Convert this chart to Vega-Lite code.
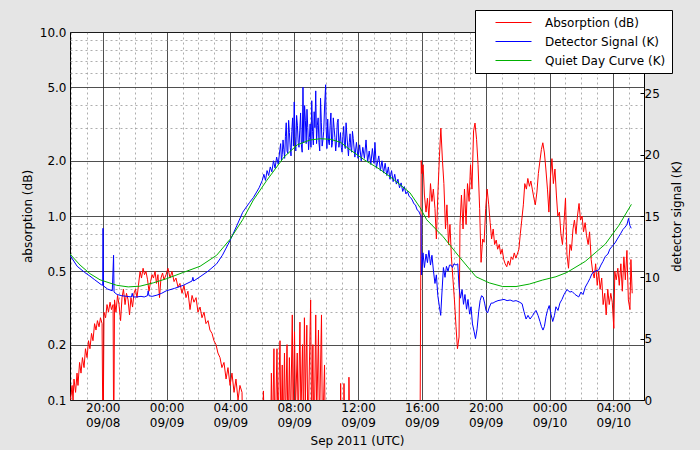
{
  "$schema": "https://vega.github.io/schema/vega-lite/v6.json",
  "width": 574,
  "height": 368,
  "autosize": {"type": "none"},
  "padding": {"left": 70, "top": 32, "right": 56, "bottom": 50},
  "background": "#e5e5e5",
  "config": {
    "view": {"fill": "white", "stroke": "black", "strokeWidth": 1},
    "font": "DejaVu Sans",
    "axis": {
      "labelFont": "DejaVu Sans", "labelFontSize": 12, "labelColor": "black",
      "titleFont": "DejaVu Sans", "titleFontSize": 12, "titleFontWeight": "normal", "titleColor": "black",
      "domain": false, "tickColor": "black"
    }
  },
  "datasets": {
    "abs": [
      {"h":17.95,"v":0.1},{"h":18.01,"v":0.105},{"h":18.08,"v":0.12},{"h":18.14,"v":0.1},{"h":18.2,"v":0.13},{"h":18.3,"v":0.11},{"h":18.39,"v":0.14},{"h":18.45,"v":0.12},{"h":18.55,"v":0.16},{"h":18.64,"v":0.14},{"h":18.73,"v":0.17},{"h":18.83,"v":0.15},{"h":18.92,"v":0.19},{"h":19.02,"v":0.17},{"h":19.11,"v":0.21},{"h":19.2,"v":0.19},{"h":19.3,"v":0.23},{"h":19.39,"v":0.21},{"h":19.49,"v":0.26},{"h":19.58,"v":0.24},{"h":19.67,"v":0.27},{"h":19.77,"v":0.25},{"h":19.86,"v":0.28},{"h":19.96,"v":0.26},{"h":20.02,"v":0.05},{"h":20.08,"v":0.3},{"h":20.18,"v":0.28},{"h":20.27,"v":0.33},{"h":20.36,"v":0.3},{"h":20.46,"v":0.34},{"h":20.55,"v":0.31},{"h":20.65,"v":0.33},{"h":20.69,"v":0.05},{"h":20.74,"v":0.35},{"h":20.83,"v":0.3},{"h":20.93,"v":0.37},{"h":21.02,"v":0.33},{"h":21.12,"v":0.27},{"h":21.21,"v":0.36},{"h":21.3,"v":0.4},{"h":21.4,"v":0.33},{"h":21.49,"v":0.38},{"h":21.59,"v":0.35},{"h":21.68,"v":0.29},{"h":21.77,"v":0.36},{"h":21.87,"v":0.32},{"h":21.96,"v":0.38},{"h":22.05,"v":0.4},{"h":22.15,"v":0.36},{"h":22.24,"v":0.42},{"h":22.34,"v":0.5},{"h":22.43,"v":0.46},{"h":22.53,"v":0.52},{"h":22.62,"v":0.48},{"h":22.71,"v":0.5},{"h":22.81,"v":0.45},{"h":22.9,"v":0.39},{"h":23.0,"v":0.44},{"h":23.09,"v":0.48},{"h":23.18,"v":0.46},{"h":23.28,"v":0.5},{"h":23.37,"v":0.43},{"h":23.46,"v":0.48},{"h":23.56,"v":0.36},{"h":23.65,"v":0.46},{"h":23.75,"v":0.49},{"h":23.84,"v":0.45},{"h":23.97,"v":0.48},{"h":24.09,"v":0.52},{"h":24.22,"v":0.46},{"h":24.34,"v":0.5},{"h":24.47,"v":0.44},{"h":24.59,"v":0.46},{"h":24.72,"v":0.41},{"h":24.84,"v":0.43},{"h":24.97,"v":0.38},{"h":25.09,"v":0.42},{"h":25.22,"v":0.36},{"h":25.34,"v":0.39},{"h":25.47,"v":0.31},{"h":25.6,"v":0.37},{"h":25.72,"v":0.34},{"h":25.85,"v":0.36},{"h":25.97,"v":0.3},{"h":26.1,"v":0.32},{"h":26.22,"v":0.28},{"h":26.35,"v":0.3},{"h":26.47,"v":0.26},{"h":26.6,"v":0.27},{"h":26.72,"v":0.24},{"h":26.85,"v":0.23},{"h":26.97,"v":0.21},{"h":27.1,"v":0.2},{"h":27.22,"v":0.18},{"h":27.35,"v":0.17},{"h":27.47,"v":0.15},{"h":27.6,"v":0.16},{"h":27.73,"v":0.13},{"h":27.85,"v":0.15},{"h":27.98,"v":0.12},{"h":28.1,"v":0.14},{"h":28.23,"v":0.11},{"h":28.35,"v":0.13},{"h":28.48,"v":0.1},{"h":28.6,"v":0.12},{"h":28.73,"v":0.11},{"h":28.79,"v":0.05},
      {"h":29.98,"v":0.05},{"h":30.07,"v":0.112},{"h":30.17,"v":0.05},{"h":30.51,"v":0.05},{"h":30.57,"v":0.14},{"h":30.64,"v":0.06},{"h":30.73,"v":0.19},{"h":30.79,"v":0.05},{"h":30.92,"v":0.19},{"h":30.98,"v":0.07},{"h":31.11,"v":0.21},{"h":31.17,"v":0.06},{"h":31.25,"v":0.155},{"h":31.3,"v":0.06},{"h":31.39,"v":0.18},{"h":31.45,"v":0.07},{"h":31.55,"v":0.2},{"h":31.61,"v":0.06},{"h":31.7,"v":0.17},{"h":31.77,"v":0.07},{"h":31.88,"v":0.29},{"h":31.93,"v":0.08},{"h":32.02,"v":0.235},{"h":32.08,"v":0.09},{"h":32.19,"v":0.18},{"h":32.25,"v":0.07},{"h":32.36,"v":0.265},{"h":32.42,"v":0.08},{"h":32.52,"v":0.2},{"h":32.58,"v":0.07},{"h":32.64,"v":0.28},{"h":32.7,"v":0.1},{"h":32.79,"v":0.255},{"h":32.86,"v":0.06},{"h":33.03,"v":0.35},{"h":33.09,"v":0.07},{"h":33.17,"v":0.2},{"h":33.24,"v":0.05},{"h":33.35,"v":0.29},{"h":33.41,"v":0.08},{"h":33.52,"v":0.24},{"h":33.58,"v":0.07},{"h":33.71,"v":0.29},{"h":33.77,"v":0.06},{"h":33.9,"v":0.155},{"h":33.96,"v":0.05},{"h":34.87,"v":0.05},{"h":34.91,"v":0.123},{"h":34.96,"v":0.05},{"h":35.09,"v":0.05},{"h":35.12,"v":0.123},{"h":35.18,"v":0.05},{"h":35.4,"v":0.05},{"h":35.43,"v":0.133},{"h":35.5,"v":0.05},
      {"h":39.88,"v":0.05},{"h":39.96,"v":2.0},{"h":40.0,"v":1.7},{"h":40.08,"v":1.9},{"h":40.16,"v":1.3},{"h":40.26,"v":1.05},{"h":40.35,"v":1.25},{"h":40.44,"v":0.98},{"h":40.54,"v":1.5},{"h":40.63,"v":1.2},{"h":40.72,"v":1.4},{"h":40.82,"v":1.1},{"h":40.91,"v":0.75},{"h":41.0,"v":1.3},{"h":41.1,"v":2.1},{"h":41.19,"v":3.0},{"h":41.29,"v":2.0},{"h":41.38,"v":1.5},{"h":41.48,"v":0.85},{"h":41.57,"v":1.15},{"h":41.67,"v":0.7},{"h":41.76,"v":0.9},{"h":41.85,"v":0.6},{"h":41.95,"v":0.45},{"h":42.04,"v":0.35},{"h":42.14,"v":0.25},{"h":42.23,"v":0.19},{"h":42.33,"v":0.22},{"h":42.39,"v":0.9},{"h":42.48,"v":1.3},{"h":42.58,"v":0.85},{"h":42.67,"v":1.4},{"h":42.77,"v":0.9},{"h":42.86,"v":1.5},{"h":42.96,"v":1.2},{"h":43.05,"v":1.9},{"h":43.14,"v":1.4},{"h":43.24,"v":2.9},{"h":43.33,"v":3.2},{"h":43.43,"v":2.6},{"h":43.52,"v":1.9},{"h":43.62,"v":1.1},{"h":43.71,"v":0.56},{"h":43.81,"v":0.75},{"h":43.9,"v":0.72},{"h":44.0,"v":1.1},{"h":44.09,"v":1.4},{"h":44.19,"v":1.15},{"h":44.28,"v":0.92},{"h":44.37,"v":0.75},{"h":44.47,"v":0.85},{"h":44.56,"v":0.7},{"h":44.66,"v":0.74},{"h":44.75,"v":0.66},{"h":44.85,"v":0.7},{"h":44.94,"v":0.62},{"h":45.03,"v":0.66},{"h":45.13,"v":0.58},{"h":45.22,"v":0.55},{"h":45.32,"v":0.53},{"h":45.41,"v":0.57},{"h":45.51,"v":0.54},{"h":45.6,"v":0.6},{"h":45.7,"v":0.58},{"h":45.79,"v":0.63},{"h":45.89,"v":0.59},{"h":45.98,"v":0.62},{"h":46.08,"v":0.66},{"h":46.17,"v":0.8},{"h":46.26,"v":0.95},{"h":46.36,"v":1.15},{"h":46.45,"v":1.5},{"h":46.55,"v":1.4},{"h":46.64,"v":1.6},{"h":46.74,"v":1.45},{"h":46.83,"v":1.55},{"h":46.92,"v":1.4},{"h":47.02,"v":1.25},{"h":47.11,"v":1.15},{"h":47.21,"v":1.35},{"h":47.3,"v":1.7},{"h":47.4,"v":2.0},{"h":47.49,"v":2.3},{"h":47.58,"v":2.5},{"h":47.68,"v":2.2},{"h":47.77,"v":1.8},{"h":47.87,"v":1.4},{"h":47.96,"v":1.05},{"h":48.05,"v":1.6},{"h":48.15,"v":2.05},{"h":48.24,"v":1.5},{"h":48.34,"v":1.8},{"h":48.43,"v":1.3},{"h":48.52,"v":1.0},{"h":48.62,"v":1.05},{"h":48.71,"v":0.8},{"h":48.81,"v":0.7},{"h":48.9,"v":0.9},{"h":49.0,"v":1.25},{"h":49.09,"v":0.62},{"h":49.19,"v":0.52},{"h":49.28,"v":0.7},{"h":49.37,"v":0.65},{"h":49.47,"v":0.85},{"h":49.56,"v":0.95},{"h":49.66,"v":0.8},{"h":49.75,"v":1.0},{"h":49.85,"v":1.17},{"h":49.94,"v":0.95},{"h":50.04,"v":1.0},{"h":50.13,"v":0.82},{"h":50.23,"v":0.92},{"h":50.32,"v":0.78},{"h":50.42,"v":0.7},{"h":50.51,"v":0.82},{"h":50.61,"v":0.58},{"h":50.7,"v":0.5},{"h":50.8,"v":0.46},{"h":50.89,"v":0.55},{"h":50.99,"v":0.42},{"h":51.08,"v":0.5},{"h":51.17,"v":0.4},{"h":51.27,"v":0.46},{"h":51.36,"v":0.33},{"h":51.46,"v":0.38},{"h":51.55,"v":0.29},{"h":51.65,"v":0.4},{"h":51.74,"v":0.33},{"h":51.84,"v":0.38},{"h":51.93,"v":0.34},{"h":52.03,"v":0.245},{"h":52.09,"v":0.5},{"h":52.18,"v":0.45},{"h":52.28,"v":0.52},{"h":52.37,"v":0.42},{"h":52.47,"v":0.55},{"h":52.56,"v":0.39},{"h":52.66,"v":0.6},{"h":52.75,"v":0.45},{"h":52.85,"v":0.65},{"h":52.94,"v":0.35},{"h":53.04,"v":0.31},{"h":53.1,"v":0.58},{"h":53.18,"v":0.38}
    ],
    "sig": [
      {"h":17.95,"v":11.8},{"h":18.4,"v":10.9},{"h":18.87,"v":10.4},{"h":19.2,"v":10.1},{"h":19.5,"v":9.8},{"h":19.91,"v":9.4},{"h":20.0,"v":9.35},{"h":20.02,"v":14.0},{"h":20.05,"v":9.3},{"h":20.3,"v":9.05},{"h":20.6,"v":8.9},{"h":20.68,"v":11.8},{"h":20.71,"v":8.8},{"h":20.9,"v":8.6},{"h":21.2,"v":8.5},{"h":21.5,"v":8.45},{"h":21.8,"v":8.4},{"h":21.85,"v":8.7},{"h":21.9,"v":8.4},{"h":22.1,"v":8.4},{"h":22.4,"v":8.45},{"h":22.6,"v":8.4},{"h":22.8,"v":8.5},{"h":22.85,"v":8.9},{"h":22.9,"v":8.5},{"h":23.1,"v":8.45},{"h":23.4,"v":8.55},{"h":23.7,"v":8.7},{"h":23.98,"v":8.9},{"h":24.5,"v":9.1},{"h":25.05,"v":9.35},{"h":25.6,"v":9.7},{"h":25.65,"v":10.0},{"h":25.7,"v":9.7},{"h":26.1,"v":10.05},{"h":26.6,"v":10.5},{"h":27.14,"v":11.1},{"h":27.5,"v":11.8},{"h":27.98,"v":13.0},{"h":28.4,"v":14.2},{"h":28.77,"v":15.3},{"h":29.2,"v":16.1},{"h":29.44,"v":16.5},{"h":29.8,"v":17.3},
      {"h":30.0,"v":17.9},{"h":30.1,"v":18.4},{"h":30.2,"v":17.9},{"h":30.3,"v":18.7},{"h":30.4,"v":18.3},{"h":30.5,"v":19.0},{"h":30.6,"v":18.6},{"h":30.7,"v":19.5},{"h":30.8,"v":18.9},{"h":30.9,"v":19.8},{"h":31.0,"v":19.2},{"h":31.1,"v":20.4},{"h":31.2,"v":19.5},{"h":31.3,"v":21.2},{"h":31.4,"v":19.7},{"h":31.5,"v":22.6},{"h":31.6,"v":20.1},{"h":31.7,"v":21.8},{"h":31.8,"v":19.9},{"h":31.9,"v":23.0},{"h":32.0,"v":24.3},{"h":32.1,"v":20.3},{"h":32.2,"v":22.4},{"h":32.3,"v":20.6},{"h":32.4,"v":23.4},{"h":32.5,"v":20.2},{"h":32.55,"v":25.5},{"h":32.6,"v":21.0},{"h":32.7,"v":22.8},{"h":32.8,"v":23.7},{"h":32.9,"v":20.4},{"h":33.0,"v":22.5},{"h":33.1,"v":24.4},{"h":33.2,"v":20.8},{"h":33.3,"v":22.2},{"h":33.35,"v":25.2},{"h":33.4,"v":20.9},{"h":33.5,"v":23.0},{"h":33.6,"v":20.3},{"h":33.7,"v":22.6},{"h":33.8,"v":21.2},{"h":33.9,"v":23.8},{"h":33.97,"v":25.7},{"h":34.05,"v":20.5},{"h":34.1,"v":22.9},{"h":34.2,"v":20.8},{"h":34.3,"v":23.4},{"h":34.4,"v":21.0},{"h":34.5,"v":22.2},{"h":34.6,"v":20.3},{"h":34.7,"v":22.6},{"h":34.8,"v":20.6},{"h":34.9,"v":21.8},{"h":35.0,"v":20.2},{"h":35.1,"v":22.3},{"h":35.2,"v":20.5},{"h":35.3,"v":21.6},{"h":35.4,"v":19.9},{"h":35.5,"v":21.7},{"h":35.6,"v":20.2},{"h":35.7,"v":21.3},{"h":35.8,"v":19.8},{"h":35.9,"v":21.0},{"h":36.0,"v":19.7},{"h":36.1,"v":20.8},{"h":36.2,"v":19.5},{"h":36.3,"v":20.6},{"h":36.4,"v":19.7},{"h":36.5,"v":21.2},{"h":36.6,"v":19.4},{"h":36.7,"v":20.3},{"h":36.8,"v":19.2},{"h":36.9,"v":20.5},{"h":37.0,"v":19.3},{"h":37.06,"v":21.0},{"h":37.15,"v":18.9},{"h":37.3,"v":19.9},{"h":37.4,"v":18.7},{"h":37.5,"v":19.5},{"h":37.6,"v":18.5},{"h":37.7,"v":19.3},{"h":37.8,"v":18.3},{"h":37.9,"v":19.0},{"h":38.0,"v":18.0},{"h":38.1,"v":18.7},{"h":38.2,"v":17.8},{"h":38.3,"v":18.4},{"h":38.4,"v":17.6},{"h":38.5,"v":18.0},{"h":38.6,"v":17.3},{"h":38.7,"v":17.7},{"h":38.8,"v":17.0},{"h":38.9,"v":17.4},{"h":39.0,"v":16.8},{"h":39.1,"v":17.0},{"h":39.2,"v":16.6},{"h":39.3,"v":16.5},{"h":39.4,"v":16.3},{"h":39.5,"v":16.0},{"h":39.6,"v":15.9},{"h":39.7,"v":15.5},{"h":39.8,"v":15.4},{"h":39.9,"v":15.1},{"h":39.95,"v":15.0},
      {"h":31.05,"v":19.8},{"h":31.15,"v":20.9},{"h":31.25,"v":20.0},{"h":31.35,"v":20.4},{"h":31.45,"v":21.5},{"h":31.55,"v":20.3},{"h":31.65,"v":22.8},{"h":31.75,"v":20.6},{"h":31.85,"v":21.9},{"h":31.95,"v":20.7},{"h":32.05,"v":21.5},{"h":32.15,"v":23.2},{"h":32.25,"v":21.0},{"h":32.35,"v":22.0},{"h":32.45,"v":20.8},{"h":32.65,"v":24.0},{"h":32.75,"v":20.9},{"h":32.85,"v":22.2},{"h":32.95,"v":21.4},{"h":33.05,"v":20.6},{"h":33.15,"v":21.9},{"h":33.25,"v":23.5},{"h":33.45,"v":22.4},{"h":33.55,"v":21.0},{"h":33.65,"v":24.6},{"h":33.75,"v":20.7},{"h":33.85,"v":21.9},{"h":34.0,"v":22.3},{"h":34.15,"v":21.1},{"h":34.25,"v":22.4},{"h":34.35,"v":20.6},{"h":34.45,"v":23.0},{"h":34.55,"v":21.4},{"h":34.65,"v":21.1},{"h":34.75,"v":22.9},{"h":34.85,"v":21.1},{"h":34.95,"v":20.6},{"h":35.05,"v":21.5},{"h":35.15,"v":20.8},{"h":35.25,"v":22.6},{"h":35.35,"v":20.7},{"h":35.45,"v":21.0},{"h":35.55,"v":20.6},{"h":35.65,"v":21.9},
      {"h":39.97,"v":10.2},{"h":39.99,"v":10.5},{"h":40.07,"v":12.0},{"h":40.16,"v":10.8},{"h":40.26,"v":11.9},{"h":40.35,"v":11.2},{"h":40.44,"v":12.2},{"h":40.54,"v":11.0},{"h":40.63,"v":11.8},{"h":40.72,"v":10.6},{"h":40.82,"v":9.5},{"h":40.91,"v":10.2},{"h":41.0,"v":8.5},{"h":41.1,"v":7.6},{"h":41.18,"v":6.9},{"h":41.26,"v":8.8},{"h":41.35,"v":10.8},{"h":41.45,"v":10.0},{"h":41.54,"v":10.9},{"h":41.64,"v":10.5},{"h":41.73,"v":11.0},{"h":41.82,"v":11.0},{"h":41.92,"v":10.8},{"h":42.01,"v":11.1},{"h":42.14,"v":11.0},{"h":42.25,"v":11.1},{"h":42.33,"v":9.2},{"h":42.42,"v":8.3},{"h":42.52,"v":9.0},{"h":42.61,"v":7.8},{"h":42.7,"v":8.6},{"h":42.8,"v":7.4},{"h":42.89,"v":8.2},{"h":42.99,"v":7.0},{"h":43.08,"v":7.6},{"h":43.17,"v":6.2},{"h":43.27,"v":5.6},{"h":43.36,"v":5.0},{"h":43.46,"v":5.8},{"h":43.56,"v":7.2},{"h":43.65,"v":8.1},{"h":43.74,"v":8.5},{"h":43.84,"v":8.4},{"h":43.93,"v":7.9},{"h":44.02,"v":7.3},{"h":44.12,"v":7.1},{"h":44.21,"v":7.5},{"h":44.34,"v":7.9},{"h":44.46,"v":7.9},{"h":44.58,"v":8.0},{"h":44.77,"v":8.1},{"h":44.96,"v":8.15},{"h":45.15,"v":8.2},{"h":45.34,"v":8.1},{"h":45.53,"v":8.15},{"h":45.72,"v":8.05},{"h":45.9,"v":8.1},{"h":46.09,"v":8.0},{"h":46.28,"v":7.85},{"h":46.4,"v":7.2},{"h":46.53,"v":6.6},{"h":46.65,"v":6.9},{"h":46.78,"v":6.6},{"h":46.95,"v":6.9},{"h":47.03,"v":7.1},{"h":47.15,"v":7.3},{"h":47.28,"v":6.9},{"h":47.4,"v":6.4},{"h":47.49,"v":6.0},{"h":47.59,"v":5.7},{"h":47.68,"v":6.0},{"h":47.78,"v":6.8},{"h":47.87,"v":7.3},{"h":47.98,"v":7.7},{"h":48.09,"v":7.0},{"h":48.2,"v":6.4},{"h":48.31,"v":6.9},{"h":48.4,"v":7.6},{"h":48.53,"v":7.3},{"h":48.65,"v":7.9},{"h":48.78,"v":8.2},{"h":48.91,"v":8.6},{"h":49.09,"v":9.0},{"h":49.28,"v":8.8},{"h":49.41,"v":8.85},{"h":49.6,"v":8.6},{"h":49.83,"v":8.4},{"h":49.97,"v":8.8},{"h":50.1,"v":8.6},{"h":50.24,"v":9.2},{"h":50.41,"v":9.6},{"h":50.53,"v":9.9},{"h":50.66,"v":10.3},{"h":50.85,"v":10.5},{"h":51.08,"v":10.6},{"h":51.22,"v":11.0},{"h":51.35,"v":11.3},{"h":51.49,"v":11.7},{"h":51.66,"v":11.9},{"h":51.78,"v":12.3},{"h":51.91,"v":12.5},{"h":52.1,"v":12.8},{"h":52.33,"v":13.3},{"h":52.47,"v":13.6},{"h":52.6,"v":13.9},{"h":52.74,"v":14.1},{"h":52.85,"v":14.3},{"h":52.95,"v":14.8},{"h":53.04,"v":14.2},{"h":53.12,"v":14.0}
    ],
    "qdc": [
      {"h":17.95,"v":11.9},{"h":18.58,"v":11.0},{"h":19.2,"v":10.3},{"h":19.83,"v":9.8},{"h":20.88,"v":9.35},{"h":21.6,"v":9.22},{"h":22.34,"v":9.28},{"h":23.17,"v":9.55},{"h":23.98,"v":9.88},{"h":25.05,"v":10.4},{"h":26.1,"v":10.9},{"h":27.14,"v":11.8},{"h":27.98,"v":13.1},{"h":28.77,"v":14.7},{"h":29.44,"v":16.3},{"h":30.28,"v":17.9},{"h":31.36,"v":19.8},{"h":32.19,"v":20.8},{"h":33.0,"v":21.2},{"h":33.66,"v":21.3},{"h":34.3,"v":21.25},{"h":34.91,"v":21.0},{"h":35.5,"v":20.4},{"h":36.37,"v":19.6},{"h":37.37,"v":18.8},{"h":38.21,"v":18.0},{"h":39.25,"v":16.9},{"h":39.88,"v":15.7},{"h":40.3,"v":14.7},{"h":41.34,"v":13.3},{"h":42.39,"v":11.6},{"h":43.39,"v":10.05},{"h":44.22,"v":9.55},{"h":45.06,"v":9.25},{"h":45.9,"v":9.25},{"h":46.73,"v":9.45},{"h":47.57,"v":9.78},{"h":48.4,"v":10.05},{"h":49.09,"v":10.4},{"h":50.24,"v":11.3},{"h":51.49,"v":12.7},{"h":52.33,"v":14.2},{"h":53.13,"v":15.95}
    ]
  },
  "encoding": {
    "x": {
      "field": "h", "type": "quantitative",
      "scale": {"domain": [17.95, 53.92], "nice": false, "zero": false},
      "axis": {
        "title": "Sep 2011 (UTC)",
        "titleX": 287, "titleY": 40, "titleBaseline": "middle", "titleAnchor": null,
        "values": [18,19,20,21,22,23,24,25,26,27,28,29,30,31,32,33,34,35,36,37,38,39,40,41,42,43,44,45,46,47,48,49,50,51,52,53],
        "labelExpr": "datum.value % 4 === 0 ? [format(datum.value % 24, '02d') + ':00', '09/' + format(8 + floor(datum.value / 24), '02d')] : ''",
        "labelOverlap": false, "labelFlush": false, "labelBound": false,
        "labelLineHeight": 15, "labelPadding": 2, "labelBaseline": "top",
        "ticks": false,
        "grid": true,
        "gridColor": {"condition": {"test": "datum.value % 4 === 0", "value": "#222222"}, "value": "#999999"},
        "gridDash": {"condition": {"test": "datum.value % 4 === 0", "value": []}, "value": [2, 3]},
        "gridWidth": 0.8
      }
    }
  },
  "layer": [
    {
      "data": {"name": "abs"},
      "mark": {"type": "line", "strokeWidth": 1, "clip": true},
      "encoding": {
        "y": {
          "field": "v", "type": "quantitative",
          "scale": {"type": "log", "domain": [0.1, 10], "nice": false},
          "axis": {
            "orient": "left",
            "title": "absorption (dB)",
            "titleX": -43, "titleY": 184, "titleBaseline": "middle", "titleAngle": 270, "titleAnchor": null,
            "values": [0.1,0.2,0.3,0.4,0.5,0.6,0.7,0.8,0.9,1,2,3,4,5,6,7,8,9,10],
            "labelExpr": "indexof([0.1,0.2,0.5,1,2,5,10], datum.value) >= 0 ? format(datum.value, '.1f') : ''",
            "labelOverlap": false, "labelFlush": false, "labelBound": false, "labelPadding": 4,
            "ticks": false,
            "grid": true,
            "gridColor": {"condition": {"test": "indexof([0.1,0.2,0.5,1,2,5,10], datum.value) >= 0", "value": "#222222"}, "value": "#999999"},
            "gridDash": {"condition": {"test": "indexof([0.1,0.2,0.5,1,2,5,10], datum.value) >= 0", "value": []}, "value": [2, 3]},
            "gridWidth": 0.8
          }
        },
        "color": {
          "datum": "Absorption (dB)",
          "scale": {"domain": ["Absorption (dB)", "Detector Signal (K)", "Quiet Day Curve (K)"], "range": ["#ff0000", "#0000ff", "#00b000"]},
          "legend": {
            "title": null, "orient": "none", "legendX": 405, "legendY": -22,
            "fillColor": "white", "strokeColor": "black", "padding": 6,
            "symbolType": "M-3,0L3,0", "symbolSize": 144, "symbolStrokeWidth": 1, "symbolOffset": 26,
            "labelFont": "DejaVu Sans", "labelFontSize": 12, "labelColor": "black", "labelOffset": 25,
            "rowPadding": 6, "cornerRadius": 0
          }
        }
      }
    },
    {
      "layer": [
        {
          "data": {"name": "sig"},
          "mark": {"type": "line", "strokeWidth": 1, "clip": true},
          "encoding": {
            "y": {
              "field": "v", "type": "quantitative",
              "scale": {"domain": [0, 30], "nice": false, "zero": false},
              "axis": {
                "orient": "right",
                "title": "detector signal (K)",
                "titleX": 32, "titleY": 184, "titleBaseline": "middle", "titleAngle": 270, "titleAnchor": null,
                "values": [0, 5, 10, 15, 20, 25],
                "labelPadding": 4, "tickSize": -4, "ticks": true, "grid": false,
                "labelFlush": false
              }
            },
            "color": {"datum": "Detector Signal (K)"}
          }
        },
        {
          "data": {"name": "qdc"},
          "mark": {"type": "line", "strokeWidth": 1, "clip": true},
          "encoding": {
            "y": {"field": "v", "type": "quantitative"},
            "color": {"datum": "Quiet Day Curve (K)"}
          }
        }
      ]
    }
  ],
  "resolve": {"scale": {"y": "independent"}}
}
